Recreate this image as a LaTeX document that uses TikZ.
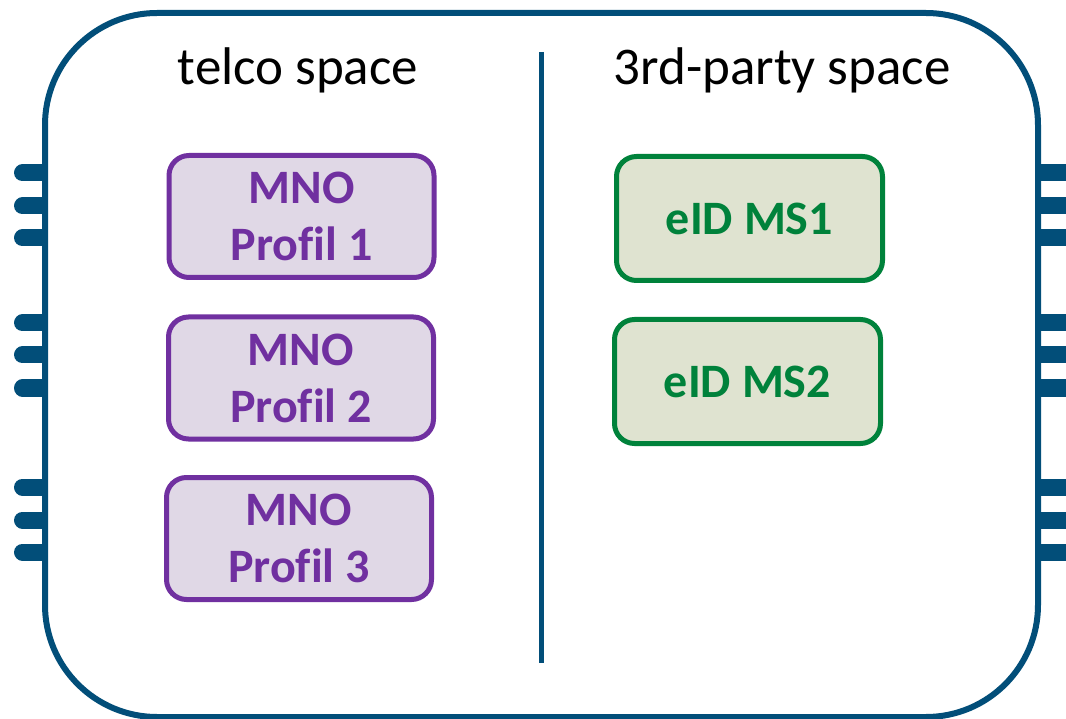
\documentclass[tikz,border=0pt]{standalone}
\usepackage{fontspec}
\setmainfont{Carlito}[Ligatures=NoCommon]
\usepackage{tikz}
\definecolor{cardblue}{HTML}{024E79}
\definecolor{mnopurple}{HTML}{7030A0}
\definecolor{mnofill}{HTML}{E0D8E6}
\definecolor{eidgreen}{HTML}{00823B}
\definecolor{eidfill}{HTML}{DFE3D0}

\begin{document}
\begin{tikzpicture}[x=1pt,y=-1pt,
    pin/.style={line width=17pt,draw=cardblue},
    mnobox/.style={rectangle,rounded corners=20pt,draw=mnopurple,fill=mnofill,
      line width=5pt,minimum width=265pt,minimum height=122pt,text=mnopurple,
      align=center,font=\fontsize{48}{57}\selectfont\bfseries},
    eidbox/.style={rectangle,rounded corners=20pt,draw=eidgreen,fill=eidfill,
      line width=5pt,minimum width=266pt,minimum height=124pt,text=eidgreen,
      align=center,font=\fontsize{48}{57}\selectfont\bfseries},
    title/.style={font=\fontsize{53}{60}\selectfont,text=black}]
    \useasboundingbox (0,0) rectangle (1066,719);

    % contact pins
    \foreach \y in {173,206,238,323,355,388,487,520,552} {
      \draw[pin,line cap=round] (22.5,\y) -- (45,\y);
      \draw[pin] (1038,\y) -- (1080,\y);
    }

    % card body
    \draw[cardblue,line width=6pt,fill=white,rounded corners=112pt]
      (45,13) rectangle (1038,717);
    \coordinate (divtop) at (541,52);
    \coordinate (divbot) at (541,663);
    \draw[cardblue,line width=5pt] (divtop) -- (divbot);

    \node[title] (telco) at (298,70) {telco space};
    \node[title] (third) at (782,70) {3rd-party space};

    \node[mnobox] (profil1) at (301.5,216.5) {MNO\\Profil 1};
    \node[mnobox] (profil2) at (301,378) {MNO\\Profil 2};
    \node[mnobox] (profil3) at (299,538.5) {MNO\\Profil 3};

    \node[eidbox] (ms1) at (749.5,218.5) {eID MS1};
    \node[eidbox] (ms2) at (747.5,381.5) {eID MS2};
  \end{tikzpicture}
\end{document}
